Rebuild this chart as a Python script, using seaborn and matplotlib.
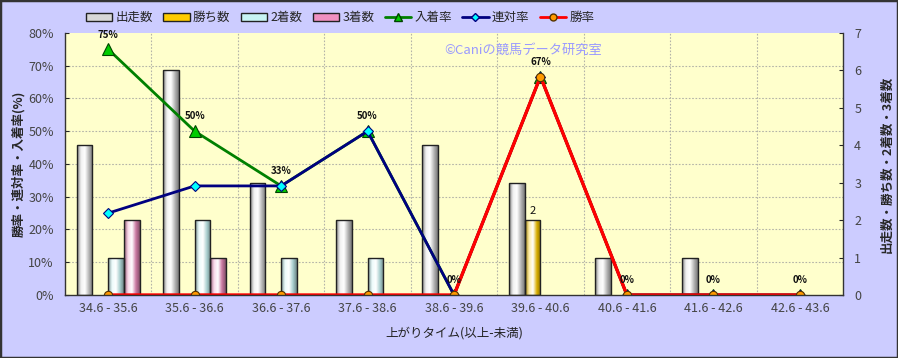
import numpy as np
import pandas as pd
import matplotlib
matplotlib.use("Agg")
import matplotlib.pyplot as plt
import seaborn as sns
from matplotlib.colors import LinearSegmentedColormap, to_rgb
from matplotlib.patches import Patch, Rectangle
from matplotlib.lines import Line2D

# ==========================================
# DATA
# ==========================================
ranges = ["34.6 - 35.6", "35.6 - 36.6", "36.6 - 37.6", "37.6 - 38.6", "38.6 - 39.6",
          "39.6 - 40.6", "40.6 - 41.6", "41.6 - 42.6", "42.6 - 43.6"]
runners = [4, 6, 3, 2, 4, 3, 1, 1, 0]
wins = [0, 0, 0, 0, 0, 2, 0, 0, 0]
seconds = [1, 2, 1, 1, 0, 0, 0, 0, 0]
thirds = [2, 1, 0, 0, 0, 0, 0, 0, 0]
show_rate = [75, 50, 33.3, 50, 0, 66.7, 0, 0, 0]      # 入着率
quinella_rate = [25, 33.3, 33.3, 50, 0, 66.7, 0, 0, 0]  # 連対率
win_rate = [0, 0, 0, 0, 0, 66.7, 0, 0, 0]             # 勝率
show_labels = ["75%", "50%", "33%", "50%", "0%", "67%", "0%", "0%", "0%"]

bar_names = ["出走数", "勝ち数", "2着数", "3着数"]
bar_colors = {"出走数": "#d8d8d8", "勝ち数": "#ffcc00", "2着数": "#c8f4f4", "3着数": "#f090c0"}

df = pd.DataFrame({
    "range": ranges * 4,
    "series": np.repeat(bar_names, len(ranges)),
    "count": runners + wins + seconds + thirds,
})

# ==========================================
# FIGURE
# ==========================================
sns.set_style("white")
plt.rcParams["font.family"] = ["Noto Sans CJK JP", "DejaVu Sans"]

fig = plt.figure(figsize=(8.98, 3.58), dpi=100, facecolor="#ccccff")
ax = fig.add_axes([0.0724, 0.176, 0.8664, 0.732])
ax2 = ax.twinx()
ax.yaxis.tick_right()
ax.yaxis.set_label_position("right")
ax2.yaxis.tick_left()
ax2.yaxis.set_label_position("left")
ax.set_facecolor("#ffffcc")

# bars (counts, right axis)
sns.barplot(data=df, x="range", y="count", hue="series", hue_order=bar_names,
            palette=bar_colors, width=0.73, saturation=1, edgecolor="#222222",
            linewidth=1, legend=False, ax=ax, zorder=2)

# gradient fill on each bar
for name, cont in zip(bar_names, ax.containers):
    base = np.array(to_rgb(bar_colors[name]))
    cmap = LinearSegmentedColormap.from_list(
        "g", [base * 0.6, np.clip(base * 0.35 + 0.65, 0, 1), np.ones(3), base * 0.85, base * 0.55])
    for p in cont.patches:
        h = p.get_height()
        if h <= 0:
            p.set_visible(False)
            continue
        x0, w = p.get_x(), p.get_width()
        im = ax.imshow(np.linspace(0, 1, 64).reshape(1, -1), cmap=cmap, aspect="auto",
                       extent=(x0, x0 + w, 0, h), zorder=1.9, interpolation="bilinear")
        im.set_clip_path(p)
        p.set_facecolor("none")

# "2" label on the wins bar
for p in ax.containers[1].patches:
    if p.get_height() > 0:
        ax.text(p.get_x() + p.get_width() / 2, p.get_height() + 0.12, f"{int(p.get_height())}",
                ha="center", va="bottom", fontsize=8, color="#111111", zorder=3)

ax.set_xlim(-0.5, len(ranges) - 0.5)
ax.set_ylim(0, 7)
ax.set_yticks(range(8))
ax.set_xlabel("上がりタイム(以上-未満)", fontsize=9, color="#222222", labelpad=8)
ax.set_ylabel("出走数・勝ち数・2着数・3着数", fontsize=9, fontweight="bold", labelpad=14)
ax.tick_params(axis="y", direction="in", length=3, labelsize=9, labelcolor="#444444", pad=8)
ax.tick_params(axis="x", length=0, labelsize=9, labelcolor="#444444", pad=5)

# grid drawn on bar axes, below bars
for k in range(1, 8):
    ax.axhline(k * 7 / 8, color="#b4b4a8", lw=0.8, ls=(0, (1.5, 1.5)), zorder=0.5)
for k in range(len(ranges) - 1):
    ax.axvline(k + 0.5, color="#b4b4a8", lw=0.8, ls=(0, (1.5, 1.5)), zorder=0.5)
for s in ax.spines.values():
    s.set_visible(False)

# rate lines (left axis)
xs = np.arange(len(ranges))
sns.lineplot(x=xs, y=show_rate, ax=ax2, color="#008000", lw=2, marker="^", markersize=8,
             markerfacecolor="#00cc00", markeredgecolor="#004400", markeredgewidth=0.8)
sns.lineplot(x=xs, y=quinella_rate, ax=ax2, color="#000080", lw=2, marker="D", markersize=5,
             markerfacecolor="#00ffff", markeredgecolor="#000080", markeredgewidth=0.8)
sns.lineplot(x=xs, y=win_rate, ax=ax2, color="#ff0000", lw=2.4, marker="o", markersize=6,
             markerfacecolor="#ff9900", markeredgecolor="#553300", markeredgewidth=0.8)
for i, lab in enumerate(show_labels):
    ax2.annotate(lab, (xs[i], show_rate[i]), xytext=(0, 7), textcoords="offset points",
                 ha="center", va="bottom", fontsize=7, fontweight="bold", color="#111111")

ax2.set_ylim(0, 80)
ax2.set_yticks(range(0, 81, 10))
ax2.set_yticklabels([f"{v}%" for v in range(0, 81, 10)])
ax2.set_ylabel("勝率・連対率・入着率(%)", fontsize=9, fontweight="bold", labelpad=2)
ax2.tick_params(axis="y", direction="in", length=3, labelsize=9, labelcolor="#444444", pad=8)
ax2.spines["top"].set_visible(False)
for side in ["left", "right", "bottom"]:
    ax2.spines[side].set_color("#333333")
    ax2.spines[side].set_linewidth(1)

ax2.text(0.488, 0.935, "©Caniの競馬データ研究室", transform=ax2.transAxes,
         ha="left", va="center", fontsize=9.5, color="#9999ff")

# legend across the top
handles = [Patch(facecolor=bar_colors[n], edgecolor="#222222", label=n) for n in bar_names]
handles += [
    Line2D([], [], color="#008000", lw=2, marker="^", markersize=6, markerfacecolor="#00cc00",
           markeredgecolor="#004400", label="入着率"),
    Line2D([], [], color="#000080", lw=2, marker="D", markersize=4, markerfacecolor="#00ffff",
           markeredgecolor="#000080", label="連対率"),
    Line2D([], [], color="#ff0000", lw=2, marker="o", markersize=5, markerfacecolor="#ff9900",
           markeredgecolor="#553300", label="勝率"),
]
fig.legend(handles=handles, loc="upper left", bbox_to_anchor=(0.083, 1.0), ncol=7,
           frameon=False, fontsize=9, handlelength=2.1, handleheight=0.6,
           handletextpad=0.25, columnspacing=0.85)

fig.patches.append(Rectangle((0, 0), 1, 1, transform=fig.transFigure, fill=False,
                             edgecolor="#333333", lw=2.5))

fig.savefig("out.png", dpi=100, facecolor=fig.get_facecolor())
